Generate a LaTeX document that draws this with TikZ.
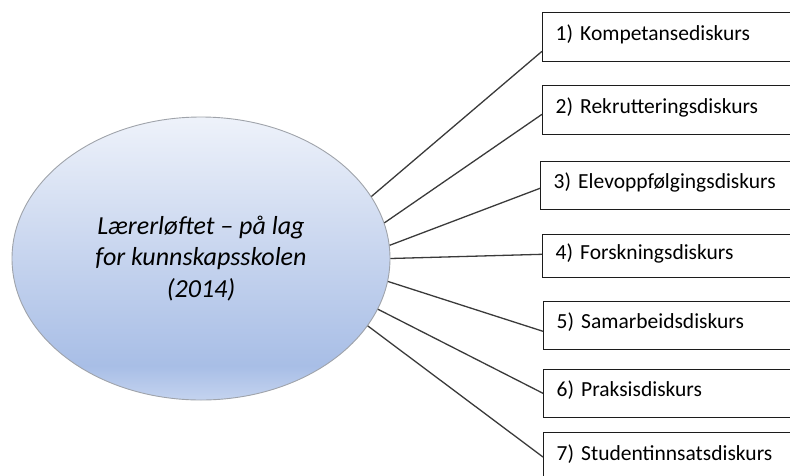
\documentclass[tikz,border=0pt]{standalone}
\usepackage{fontspec}
\setmainfont{Carlito}
\usetikzlibrary{shapes.geometric}

\definecolor{ovaltop}{HTML}{EEF2FA}
\definecolor{ovalmid}{HTML}{C9D6EF}
\definecolor{ovallow}{HTML}{A8BEE6}
\definecolor{ovalbot}{HTML}{C4D3EF}
\definecolor{ovalline}{HTML}{9FA3AA}
\definecolor{boxline}{HTML}{1C1C1C}
\definecolor{linkline}{HTML}{3A3A3A}

% vertical fill of the central oval (first stop = bottom)
\pgfdeclareverticalshading{ovalfill}{100bp}{%
  color(0bp)=(ovalbot); color(25bp)=(ovalbot); color(31bp)=(ovallow);
  color(52bp)=(ovalmid); color(75bp)=(ovaltop); color(100bp)=(ovaltop)}

\tikzset{
  oval/.style={ellipse, draw=ovalline, line width=0.9pt, shading=ovalfill,
    minimum width=378pt, minimum height=283pt, inner sep=0pt,
    font=\fontsize{26}{31.5}\selectfont\itshape, align=center},
  discbox/.style={draw=boxline, line width=1.3pt, fill=white, anchor=north west,
    minimum width=262pt, text width=236pt, inner xsep=13pt, align=left,
    text height=13pt, text depth=7pt, font=\fontsize{21.5}{26}\selectfont},
  link/.style={draw=linkline, line width=1.3pt}
}

\begin{document}
\begin{tikzpicture}[x=1pt, y=-1pt]
  \useasboundingbox (0,0) rectangle (790,475);
  \clip (0,0) rectangle (790,475);

  % central oval
  \node[oval] (c) at (201,258.5) {Lærerløftet – på lag\\for kunnskapsskolen\\(2014)};

  % the seven discourses
  \node[discbox, minimum height=49pt] (b1) at (542,12)  {1) Kompetansediskurs};
  \node[discbox, minimum height=49pt] (b2) at (542,85)  {2) Rekrutteringsdiskurs};
  \node[discbox, minimum height=48pt] (b3) at (540,161) {3) Elevoppfølgingsdiskurs};
  \node[discbox, minimum height=43pt] (b4) at (542,234) {4) Forskningsdiskurs};
  \node[discbox, minimum height=48pt] (b5) at (543,301) {5) Samarbeidsdiskurs};
  \node[discbox, minimum height=48pt] (b6) at (543,369) {6) Praksisdiskurs};
  \node[discbox, minimum height=49pt] (b7) at (543,432) {7) Studentinnsatsdiskurs};

  % connectors from the oval to each box
  \draw[link] (c.20.8)  -- ([yshift=11pt]b1.south west);
  \draw[link] (c.11.7)  -- ([yshift=21pt]b2.south west);
  \draw[link] (c.4.1)   -- ([yshift=22pt]b3.south west);
  \draw[link] (c.-0.5)  -- ([yshift=24pt]b4.south west);
  \draw[link] (c.-7.5)  -- ([yshift=19pt]b5.south west);
  \draw[link] (c.-16)   -- ([yshift=25pt]b6.south west);
  \draw[link] (c.-22.3) -- ([yshift=-25pt]b7.north west);
\end{tikzpicture}
\end{document}
